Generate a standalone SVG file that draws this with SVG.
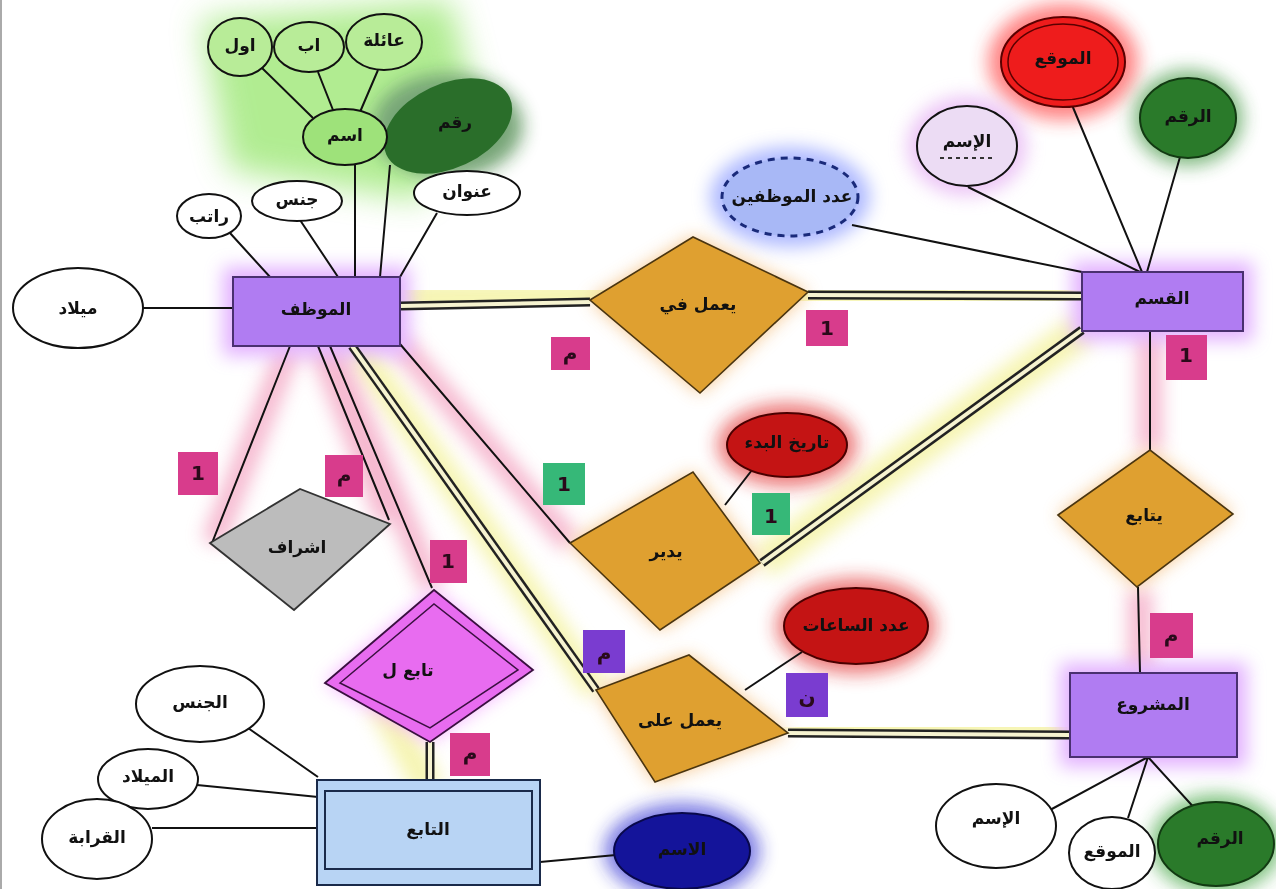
<svg xmlns="http://www.w3.org/2000/svg" width="1276" height="889" viewBox="0 0 1276 889">
<defs>
<filter id="glow" x="-50%" y="-50%" width="200%" height="200%"><feGaussianBlur stdDeviation="9"/></filter>
<filter id="glow2" x="-50%" y="-50%" width="200%" height="200%"><feGaussianBlur stdDeviation="16"/></filter>
<style>
text{font-family:"DejaVu Sans","Noto Sans",sans-serif;font-weight:bold;font-size:17px;text-anchor:middle;dominant-baseline:central;fill:#111}
.ent{fill:#b07cf2;stroke:#4a3070;stroke-width:2}
.rel{fill:#dfa030;stroke:#4a3510;stroke-width:1.6}
.att{fill:#fff;stroke:#111;stroke-width:2}
.ln{stroke:#111;stroke-width:2;fill:none}
.dbo{stroke:#222;stroke-width:9;fill:none}
.dbi{stroke:#f6f3d0;stroke-width:4;fill:none}
.pk{fill:#d83c8c}
.gr{fill:#36b878}
.pu{fill:#7a3cd0}
.card{font-size:20px;fill:#2a0a1a}
</style>
</defs>
<rect width="1276" height="889" fill="#fff"/>
<line x1="1" y1="0" x2="1" y2="889" stroke="#aaa" stroke-width="2"/>

<g id="glows" opacity="0.6">
<path d="M200 20 L450 0 L480 120 L420 200 L230 170 Z" fill="#7de04a" filter="url(#glow2)"/>
<path d="M400 298 L1082 293" stroke="#f0ee80" stroke-width="34" filter="url(#glow)"/>
<path d="M1082 330 L762 563" stroke="#f0ee80" stroke-width="34" filter="url(#glow)"/>
<path d="M355 345 L596 690" stroke="#f0ee80" stroke-width="28" filter="url(#glow)"/>
<path d="M788 728 L1070 730" stroke="#f0ee80" stroke-width="34" filter="url(#glow)"/>
<path d="M290 346 L213 543 M320 346 L388 520 M330 346 L433 588 M1150 331 L1150 450 M1140 590 L1140 673 M400 344 L570 543" stroke="#f08ab0" stroke-width="24" filter="url(#glow)"/>
<path d="M380 700 L430 790" stroke="#f0ee80" stroke-width="30" filter="url(#glow)"/>
<ellipse cx="1063" cy="62" rx="75" ry="58" fill="#ff3030" filter="url(#glow)"/>
<ellipse cx="1188" cy="118" rx="55" ry="48" fill="#2a8a2a" filter="url(#glow)"/>
<ellipse cx="790" cy="197" rx="80" ry="50" fill="#7a8cff" filter="url(#glow)"/>
<ellipse cx="967" cy="146" rx="60" ry="50" fill="#e0a0f0" filter="url(#glow)"/>
<ellipse cx="448" cy="126" rx="75" ry="52" fill="#1e6a1e" filter="url(#glow)"/>
<ellipse cx="787" cy="445" rx="70" ry="42" fill="#e02020" filter="url(#glow)"/>
<ellipse cx="856" cy="626" rx="80" ry="48" fill="#e02020" filter="url(#glow)"/>
<ellipse cx="682" cy="851" rx="78" ry="48" fill="#2020d0" filter="url(#glow)"/>
<ellipse cx="1216" cy="844" rx="66" ry="50" fill="#2a9a2a" filter="url(#glow)"/>
<rect x="223" y="267" width="187" height="89" fill="#d080ff" filter="url(#glow)"/>
<rect x="1072" y="262" width="181" height="79" fill="#d080ff" filter="url(#glow)"/>
<rect x="1060" y="663" width="187" height="104" fill="#d080ff" filter="url(#glow)"/>
<path d="M325 683 L434 590 L533 670 L430 742 Z" fill="#f080ff" filter="url(#glow)"/>
<path d="M590 300 L693 237 L808 292 L700 393 Z" fill="#f0a040" filter="url(#glow)"/>
<path d="M570 543 L693 472 L760 563 L660 630 Z" fill="#f0a040" filter="url(#glow)"/>
<path d="M596 690 L689 655 L788 733 L655 782 Z" fill="#f0a040" filter="url(#glow)"/>
<path d="M1058 515 L1150 450 L1233 514 L1137 587 Z" fill="#f0a040" filter="url(#glow)"/>
</g>

<g id="connectors">
<path class="ln" d="M143 308 L233 308 M230 233 L270 277 M300 220 L338 277 M355 165 L355 277 M390 165 L380 277 M437 213 L400 277"/>
<path class="ln" d="M262 68 L313 118 M318 72 L333 110 M378 70 L360 112"/>
<path class="dbo" d="M400 306 L590 302"/><path class="dbi" d="M400 306 L590 302"/>
<path class="dbo" d="M808 295 L1082 296"/><path class="dbi" d="M808 295 L1082 296"/>
<path class="ln" d="M852 225 L1082 272 M968 187 L1140 272 M1072 105 L1142 272 M1180 157 L1147 272"/>
<path class="dbo" d="M1082 330 L762 563"/><path class="dbi" d="M1082 330 L762 563"/>
<path class="ln" d="M400 344 L570 543 M725 505 L752 470"/>
<path class="dbo" d="M352 346 L596 690"/><path class="dbi" d="M352 346 L596 690"/>
<path class="dbo" d="M788 733 L1070 735"/><path class="dbi" d="M788 733 L1070 735"/>
<path class="ln" d="M745 690 L802 652"/>
<path class="ln" d="M1150 331 L1150 450 M1138 587 L1140 673"/>
<path class="ln" d="M1148 757 L1050 810 M1148 757 L1128 818 M1148 757 L1198 812"/>
<path class="ln" d="M290 346 L212 543 M318 346 L389 520 M330 346 L432 588"/>
<path class="dbo" d="M430 742 L430 780"/><path class="dbi" d="M430 742 L430 780"/>
<path class="ln" d="M248 728 L318 777 M197 785 L318 797 M152 828 L318 828 M540 862 L616 855"/>
</g>

<g id="n-mowazzaf"><rect class="ent" x="233" y="277" width="167" height="69"/><text x="316" y="309">الموظف</text></g>
<g id="a-milad"><ellipse class="att" cx="78" cy="308" rx="65" ry="40"/><text x="78" y="308">ميلاد</text></g>
<g id="a-ratib"><ellipse class="att" cx="209" cy="216" rx="32" ry="22"/><text x="209" y="216" font-size="15">راتب</text></g>
<g id="a-jins"><ellipse class="att" cx="297" cy="201" rx="45" ry="20"/><text x="297" y="199">جنس</text></g>
<g id="a-unwan"><ellipse class="att" cx="467" cy="193" rx="53" ry="22"/><text x="467" y="191">عنوان</text></g>
<g id="a-raqm"><ellipse cx="448" cy="126" rx="68" ry="42" transform="rotate(-25 448 126)" fill="#2a6e2a"/><text x="455" y="122" fill="#1a4a1a">رقم</text></g>
<g id="a-ism"><ellipse class="att" cx="345" cy="137" rx="42" ry="28" style="fill:#9ee27a"/><text x="345" y="135" font-size="19">اسم</text></g>
<g id="a-awwal"><ellipse class="att" cx="240" cy="47" rx="32" ry="29" style="fill:#b8ec98"/><text x="240" y="45" font-size="18">اول</text></g>
<g id="a-ab"><ellipse class="att" cx="309" cy="47" rx="35" ry="25" style="fill:#b8ec98"/><text x="309" y="45" font-size="18">اب</text></g>
<g id="a-aila"><ellipse class="att" cx="384" cy="42" rx="38" ry="28" style="fill:#b8ec98"/><text x="384" y="40" font-size="18">عائلة</text></g>

<g id="r-yamalfi"><path class="rel" d="M590 300 L693 237 L808 292 L700 393 Z"/><text x="698" y="304">يعمل في</text></g>
<g id="n-qism"><rect class="ent" x="1082" y="272" width="161" height="59"/><text x="1162" y="298">القسم</text></g>
<g id="a-adad"><ellipse cx="790" cy="197" rx="68" ry="39" fill="#a8b8f6" stroke="#1a2a7a" stroke-width="3" stroke-dasharray="7 6"/><text x="792" y="196" font-size="16">عدد الموظفين</text></g>
<g id="a-qism-ism"><ellipse class="att" cx="967" cy="146" rx="50" ry="40" style="fill:#ecdcf4"/><text x="967" y="141">الإسم</text><line x1="940" y1="158" x2="995" y2="158" stroke="#333" stroke-width="2" stroke-dasharray="4 4"/></g>
<g id="a-qism-mawqi"><ellipse cx="1063" cy="62" rx="62" ry="45" fill="#ee1c1c" stroke="#5a0000" stroke-width="2"/><ellipse cx="1063" cy="62" rx="55" ry="38" fill="none" stroke="#5a0000" stroke-width="1.5"/><text x="1063" y="58" font-size="14" fill="#5a0a0a">الموقع</text></g>
<g id="a-qism-raqm"><ellipse cx="1188" cy="118" rx="48" ry="40" fill="#2a7a2a" stroke="#123a12" stroke-width="2"/><text x="1188" y="116" font-size="14" fill="#1a4a1a">الرقم</text></g>

<g id="r-yudir"><path class="rel" d="M570 543 L693 472 L760 563 L660 630 Z"/><text x="666" y="551">يدير</text></g>
<g id="a-tarikh"><ellipse cx="787" cy="445" rx="60" ry="32" fill="#c41414" stroke="#4a0000" stroke-width="2"/><text x="787" y="442" font-size="13" fill="#5a0a0a">تاريخ البدء</text></g>

<g id="r-yamalala"><path class="rel" d="M596 690 L689 655 L788 733 L655 782 Z"/><text x="680" y="720">يعمل على</text></g>
<g id="a-saat"><ellipse cx="856" cy="626" rx="72" ry="38" fill="#c41414" stroke="#4a0000" stroke-width="2"/><text x="856" y="625" font-size="13" fill="#5a0a0a">عدد الساعات</text></g>

<g id="r-yutabi"><path class="rel" d="M1058 515 L1150 450 L1233 514 L1137 587 Z"/><text x="1144" y="515">يتابع</text></g>
<g id="n-mashru"><rect class="ent" x="1070" y="673" width="167" height="84"/><text x="1153" y="704">المشروع</text></g>
<g id="a-m-ism"><ellipse class="att" cx="996" cy="826" rx="60" ry="42"/><text x="996" y="818">الإسم</text></g>
<g id="a-m-mawqi"><ellipse class="att" cx="1112" cy="853" rx="43" ry="36"/><text x="1112" y="851" font-size="16">الموقع</text></g>
<g id="a-m-raqm"><ellipse cx="1216" cy="844" rx="58" ry="42" fill="#2a7a2a" stroke="#123a12" stroke-width="2"/><text x="1220" y="838" font-size="14" fill="#1a4a1a">الرقم</text></g>

<g id="r-ishraf"><path d="M210 543 L300 489 L390 524 L294 610 Z" fill="#bcbcbc" stroke="#333" stroke-width="1.8"/><text x="297" y="547">اشراف</text></g>
<g id="r-tabi3li"><path d="M325 683 L434 590 L533 670 L430 742 Z" fill="#e86cf0" stroke="#3a1040" stroke-width="1.8"/><path d="M340 683 L434 604 L518 670 L430 728 Z" fill="none" stroke="#3a1040" stroke-width="1.5"/><text x="408" y="670">تابع ل</text></g>

<g id="n-tabi"><rect x="317" y="780" width="223" height="105" fill="#b8d4f4" stroke="#1a2a4a" stroke-width="2"/><rect x="325" y="791" width="207" height="78" fill="none" stroke="#1a2a4a" stroke-width="2"/><text x="428" y="829" font-size="18">التابع</text></g>
<g id="a-jins2"><ellipse class="att" cx="200" cy="704" rx="64" ry="38"/><text x="200" y="702">الجنس</text></g>
<g id="a-milad2"><ellipse class="att" cx="148" cy="779" rx="50" ry="30"/><text x="148" y="776">الميلاد</text></g>
<g id="a-qaraba"><ellipse class="att" cx="97" cy="839" rx="55" ry="40"/><text x="97" y="837">القرابة</text></g>
<g id="a-tabi-ism"><ellipse cx="682" cy="851" rx="68" ry="38" fill="#14149a" stroke="#08084a" stroke-width="2"/><text x="682" y="849" font-size="14" fill="#0a0a4a">الاسم</text></g>

<g id="cards">
<rect class="pk" x="551" y="337" width="39" height="33"/><text class="card" x="570" y="353">م</text>
<rect class="pk" x="806" y="310" width="42" height="36"/><text class="card" x="827" y="328">1</text>
<rect class="pk" x="1166" y="335" width="41" height="45"/><text class="card" x="1186" y="355">1</text>
<rect class="pk" x="178" y="452" width="40" height="43"/><text class="card" x="198" y="473">1</text>
<rect class="pk" x="325" y="455" width="38" height="42"/><text class="card" x="344" y="475">م</text>
<rect class="pk" x="430" y="540" width="37" height="43"/><text class="card" x="448" y="561">1</text>
<rect class="pk" x="450" y="733" width="40" height="43"/><text class="card" x="470" y="753">م</text>
<rect class="gr" x="543" y="463" width="42" height="42"/><text class="card" x="564" y="484" fill="#0a2a10">1</text>
<rect class="gr" x="752" y="493" width="38" height="42"/><text class="card" x="771" y="516" fill="#0a2a10">1</text>
<rect class="pu" x="583" y="630" width="42" height="43"/><text class="card" x="604" y="653" fill="#1a0a3a">م</text>
<rect class="pu" x="786" y="673" width="42" height="44"/><text class="card" x="807" y="697" fill="#1a0a3a">ن</text>
<rect class="pk" x="1150" y="613" width="43" height="45"/><text class="card" x="1171" y="635">م</text>
</g>
</svg>
